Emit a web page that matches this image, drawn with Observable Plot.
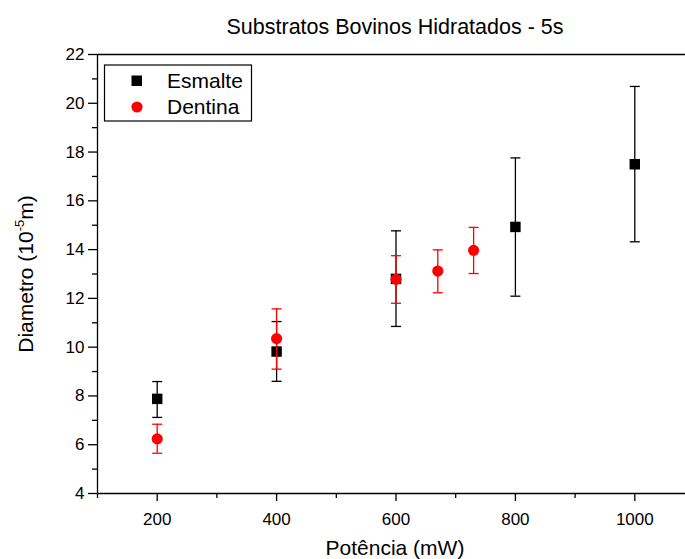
<!DOCTYPE html>
<html><head><meta charset="utf-8">
<script src="https://cdn.jsdelivr.net/npm/d3@7"></script>
<script src="https://cdn.jsdelivr.net/npm/@observablehq/plot@0.6"></script>
<style>body{margin:0;background:#fff} #chart{width:685px;height:559px}</style>
</head><body><div id="chart"></div>
<script>
const chartTitle = "Substratos Bovinos Hidratados - 5s";
const xLabel = "Potência (mW)";
const seriesNames = ["Esmalte", "Dentina"];
const seriesColors = ["#000000", "#ff0000"];

const potenciaEsmalte = [200, 400, 600, 800, 1000];
const diamEsmalte = [7.88, 9.82, 12.8, 14.93, 17.5];
const loEsmalte = [7.12, 8.6, 10.85, 12.09, 14.32];
const hiEsmalte = [8.59, 11.05, 14.77, 17.76, 20.69];

const potenciaDentina = [200, 400, 600, 670, 730];
const diamDentina = [6.24, 10.35, 12.78, 13.12, 13.97];
const loDentina = [5.65, 9.1, 11.8, 12.23, 13.02];
const hiDentina = [6.84, 11.57, 13.75, 13.99, 14.91];

const xMajorTicks = [200, 400, 600, 800, 1000];
const xMinorTicks = [100, 300, 500, 700, 900, 1100];
const yMajorTicks = [4, 6, 8, 10, 12, 14, 16, 18, 20, 22];
const yMinorTicks = [5, 7, 9, 11, 13, 15, 17, 19, 21];

const esmalte = potenciaEsmalte.map((x, i) => ({x, y: diamEsmalte[i], lo: loEsmalte[i], hi: hiEsmalte[i]}));
const dentina = potenciaDentina.map((x, i) => ({x, y: diamDentina[i], lo: loDentina[i], hi: hiDentina[i]}));

const cap = {draw(ctx) { ctx.moveTo(-5, 0); ctx.lineTo(5, 0); }};
const font = "'Liberation Sans', Arial, sans-serif";

const plot = Plot.plot({
  width: 685, height: 559,
  marginTop: 54, marginBottom: 66, marginLeft: 97, marginRight: 0,
  x: {domain: [100, 1100], range: [97, 694]},
  y: {domain: [4, 22], range: [493, 54]},
  style: {fontFamily: font, background: "white", color: "black"},
  marks: [
    Plot.axisX({ticks: xMajorTicks, tickFormat: d => String(d), tickSize: 8, tickPadding: 11, fontSize: 17, strokeWidth: 1.3, label: null}),
    Plot.axisX({ticks: xMinorTicks, tickSize: 5, fill: "none", strokeWidth: 1.3, label: null}),
    Plot.axisY({ticks: yMajorTicks, tickFormat: d => String(d), tickSize: 9, tickPadding: 4, fontSize: 17, strokeWidth: 1.3, label: null}),
    Plot.axisY({ticks: yMinorTicks, tickSize: 5, fill: "none", strokeWidth: 1.3, label: null}),
    Plot.ruleY([4], {strokeWidth: 1.3}),
    Plot.ruleY([22], {strokeWidth: 1.3}),
    Plot.ruleX([100], {strokeWidth: 1.3}),
    Plot.ruleX(esmalte, {x: "x", y1: "lo", y2: "hi", stroke: seriesColors[0], strokeWidth: 1.3}),
    Plot.dot(esmalte, {x: "x", y: "lo", symbol: cap, stroke: seriesColors[0], strokeWidth: 1.3, fill: "none"}),
    Plot.dot(esmalte, {x: "x", y: "hi", symbol: cap, stroke: seriesColors[0], strokeWidth: 1.3, fill: "none"}),
    Plot.dot(esmalte, {x: "x", y: "y", symbol: "square", r: 5.9, fill: seriesColors[0], stroke: "none"}),
    Plot.ruleX(dentina, {x: "x", y1: "lo", y2: "hi", stroke: seriesColors[1], strokeWidth: 1.3}),
    Plot.dot(dentina, {x: "x", y: "lo", symbol: cap, stroke: seriesColors[1], strokeWidth: 1.3, fill: "none"}),
    Plot.dot(dentina, {x: "x", y: "hi", symbol: cap, stroke: seriesColors[1], strokeWidth: 1.3, fill: "none"}),
    Plot.dot(dentina, {x: "x", y: "y", symbol: "circle", r: 5.6, fill: seriesColors[1], stroke: "none"})
  ]
});
document.getElementById("chart").appendChild(plot);

const svg = d3.select(plot);
svg.append("text").attr("x", 395).attr("y", 34).attr("text-anchor", "middle")
  .attr("font-family", font).attr("font-size", 21.5).attr("fill", "black").text(chartTitle);
svg.append("text").attr("x", 395).attr("y", 555).attr("text-anchor", "middle")
  .attr("font-family", font).attr("font-size", 21).attr("fill", "black").text(xLabel);
const yl = svg.append("text").attr("transform", "translate(33,274) rotate(-90)").attr("text-anchor", "middle")
  .attr("font-family", font).attr("font-size", 21).attr("fill", "black");
yl.append("tspan").text("Diametro (10");
yl.append("tspan").attr("font-size", 13).attr("dy", -9).text("-5");
yl.append("tspan").attr("dy", 9).text("m)");

const lg = svg.append("g");
lg.append("rect").attr("x", 104.5).attr("y", 65).attr("width", 147).attr("height", 56)
  .attr("fill", "white").attr("stroke", "black").attr("stroke-width", 1.2);
lg.append("rect").attr("x", 131.5).attr("y", 75.5).attr("width", 10.5).attr("height", 10.5).attr("fill", seriesColors[0]);
lg.append("circle").attr("cx", 137).attr("cy", 107).attr("r", 5.6).attr("fill", seriesColors[1]);
seriesNames.forEach((n, i) => {
  lg.append("text").attr("x", 167).attr("y", 88 + i * 26).attr("text-anchor", "start").attr("font-family", font)
    .attr("font-size", 21).attr("fill", "black").text(n);
});
</script></body></html>
